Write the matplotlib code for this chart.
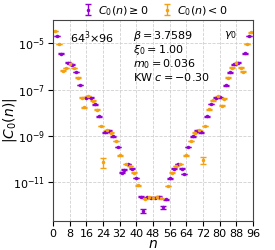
import numpy as np
import matplotlib
matplotlib.use("Agg")
import matplotlib.pyplot as plt

# time slices and signed correlator values
n = np.arange(1, 96)
c0 = np.array([
    -3.28e-5, 2.00e-5, -9.06e-6, 3.47e-6, -6.44e-7, -8.41e-7, 1.42e-6, -1.29e-6,
    1.17e-6, -8.41e-7, 5.66e-7, -3.22e-7, 1.56e-7, -4.44e-8, -1.71e-8, 4.44e-8,
    -5.25e-8, 4.44e-8, -3.30e-8, 2.31e-8, -1.35e-8, 7.03e-9, -2.69e-9, -7.8e-11,
    1.42e-9, -1.81e-9, 1.69e-9, -1.39e-9, 9.70e-10, -6.10e-10, 3.37e-10, -1.48e-10,
    2.64e-11, 3.56e-11, -6.25e-11, 6.25e-11, -5.13e-11, 3.93e-11, -2.64e-11, 1.56e-11,
    -7.59e-12, 2.45e-12, 6.12e-13, -2.01e-12, 2.26e-12, -2.26e-12, 2.22e-12, -2.22e-12,
    2.22e-12, -2.26e-12, 2.45e-12, -2.09e-12, 8.57e-13, 1.89e-12, -7.06e-12, 1.52e-11,
    -2.64e-11, 3.93e-11, -5.13e-11, 6.25e-11, -6.25e-11, 3.93e-11, 2.32e-11, -1.48e-10,
    3.37e-10, -6.10e-10, 9.70e-10, -1.39e-9, 1.69e-9, -1.81e-9, 1.42e-9, -9.5e-11,
    -2.69e-9, 7.03e-9, -1.41e-8, 2.38e-8, -3.43e-8, 4.44e-8, -5.09e-8, 4.62e-8,
    -2.01e-8, -4.02e-8, 1.52e-7, -3.22e-7, 5.50e-7, -8.67e-7, 1.21e-6, -1.34e-6,
    1.42e-6, -8.67e-7, -5.83e-7, 3.61e-6, -9.06e-6, 2.00e-5, -2.88e-5,
])
# relative errors, only a few are visible
rel_err = np.full(len(n), 0.03)
rel_err[n == 24] = 0.45
rel_err[n == 72] = 0.36
rel_err[n == 43] = 0.2
rel_err[n == 53] = 0.18

err = np.abs(c0) * rel_err
pos = c0 >= 0
neg = ~pos

purple = "#9400d3"
orange = "#f5a10f"
fs = 8

fig = plt.figure(figsize=(2.75, 2.5), dpi=100)
ax = fig.add_axes([0.193, 0.116, 0.727, 0.804])

kw = dict(fmt=".", markersize=3, capsize=2.2, elinewidth=1, capthick=1)
ax.errorbar(n[pos], np.abs(c0[pos]), yerr=err[pos], color=purple,
            label=r"$C_0(n) \geq 0$", **kw)
ax.errorbar(n[neg], np.abs(c0[neg]), yerr=err[neg], color=orange,
            label=r"$C_0(n) < 0$", **kw)

ax.set_yscale("log")
ax.set_xlim(0, 96)
ax.set_ylim(2.2e-13, 9.8e-5)
ax.set_xticks(np.arange(0, 97, 8))
ax.set_yticks([1e-11, 1e-9, 1e-7, 1e-5])
ax.yaxis.set_minor_locator(matplotlib.ticker.NullLocator())
ax.tick_params(labelsize=fs, pad=2)
ax.grid(True, ls="--", lw=0.6, color="#d0d0d0")
ax.set_axisbelow(True)
for s in ax.spines.values():
    s.set_color("#444444")

ax.set_xlabel("$n$", fontsize=10)
ax.set_ylabel("$|C_0(n)|$", fontsize=10)
ax.xaxis.set_label_coords(0.5, -0.08)
ax.yaxis.set_label_coords(-0.168, 0.5)

ax.text(0.085, 0.955, r"$64^3{\times}96$", transform=ax.transAxes,
        fontsize=fs, va="top")
ax.text(0.4, 0.955, "$\\beta = 3.7589$\n$\\xi_0 = 1.00$\n$m_0 = 0.036$\nKW $c = -0.30$",
        transform=ax.transAxes, fontsize=fs, va="top", linespacing=1.0)
ax.text(0.855, 0.955, r"$\gamma_0$", transform=ax.transAxes,
        fontsize=fs, va="top")

ax.legend(loc="lower center", bbox_to_anchor=(0.51, 0.99), ncol=2,
          frameon=False, fontsize=fs, handlelength=1.0, columnspacing=1.2,
          handletextpad=0.4, borderaxespad=0.0)

fig.savefig("out.png", dpi=100)
